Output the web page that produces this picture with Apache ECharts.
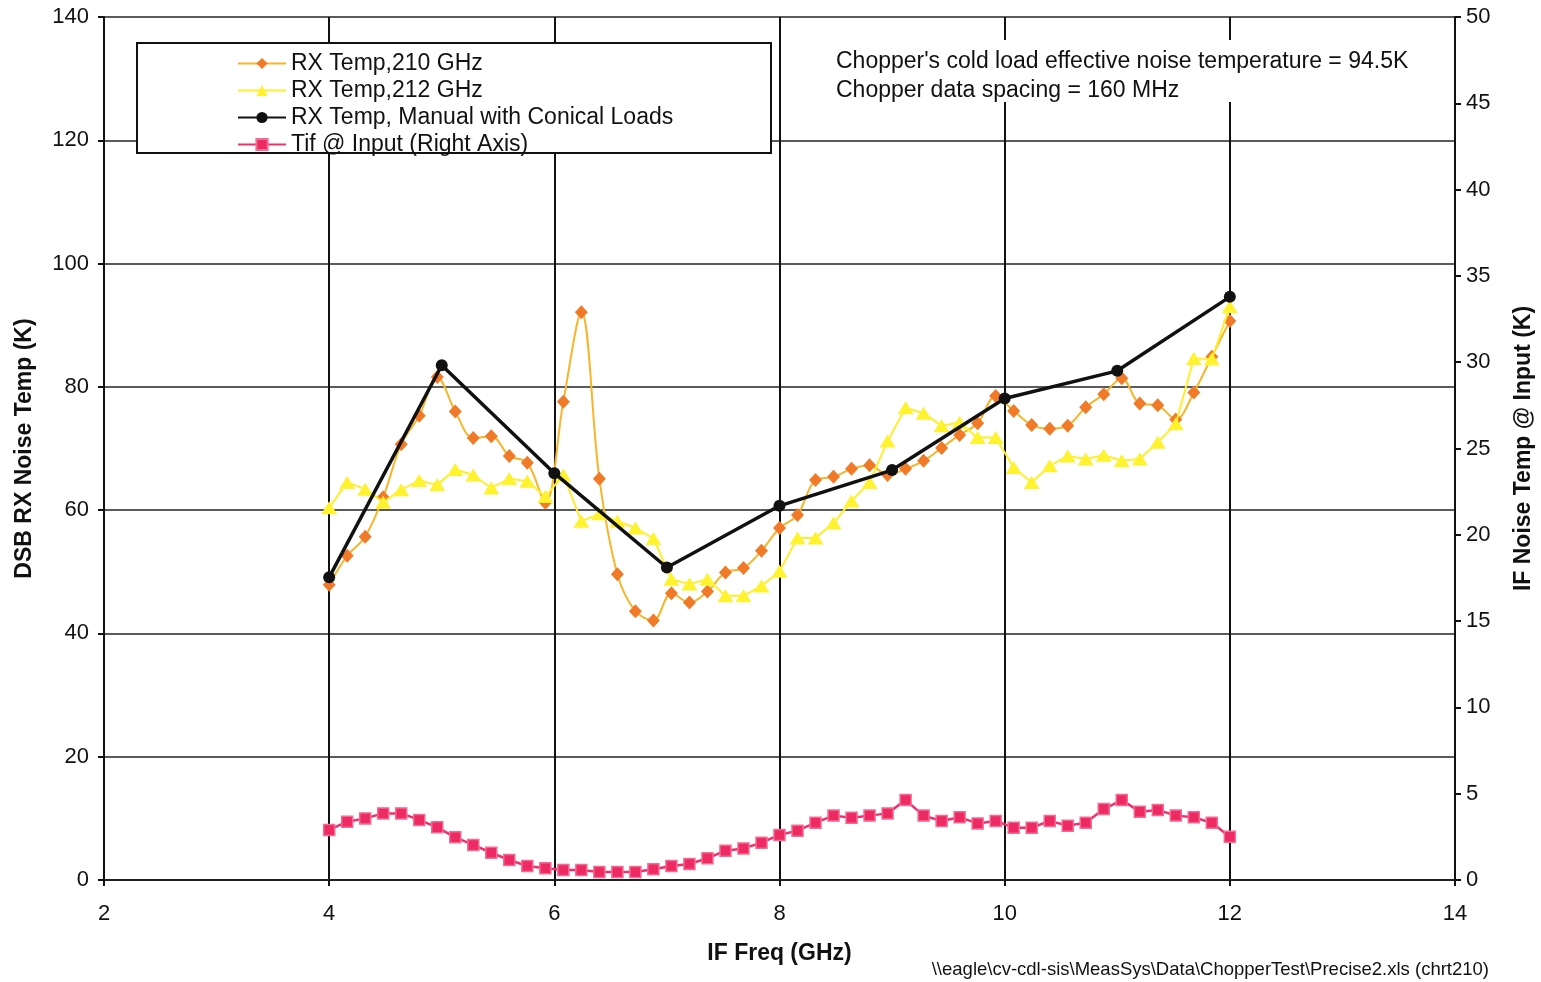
<!DOCTYPE html>
<html>
<head>
<meta charset="utf-8">
<script src="https://cdn.jsdelivr.net/npm/echarts@6/dist/echarts.min.js"></script>
<style>html,body{margin:0;padding:0;background:#fff}#c{width:1541px;height:982px}</style>
</head>
<body>
<div id="c"></div>
<script>
var freqs = [4.00,4.16,4.32,4.48,4.64,4.80,4.96,5.12,5.28,5.44,5.60,5.76,5.92,6.08,6.24,6.40,6.56,6.72,6.88,7.04,7.20,7.36,7.52,7.68,7.84,8.00,8.16,8.32,8.48,8.64,8.80,8.96,9.12,9.28,9.44,9.60,9.76,9.92,10.08,10.24,10.40,10.56,10.72,10.88,11.04,11.20,11.36,11.52,11.68,11.84,12.00];
var rx210 = [47.9,52.6,55.7,62.1,70.7,75.3,81.6,76.0,71.7,72.0,68.8,67.7,61.2,77.6,92.1,65.1,49.6,43.6,42.1,46.5,45.0,46.8,49.9,50.6,53.4,57.1,59.2,64.9,65.4,66.7,67.3,65.7,66.7,68.0,70.1,72.2,74.1,78.5,76.1,73.8,73.2,73.7,76.7,78.8,81.4,77.3,77.0,74.7,79.1,84.9,90.7];
var rx212 = [60.4,64.5,63.4,61.3,63.3,64.8,64.1,66.6,65.7,63.6,65.1,64.7,62.2,65.7,58.2,59.4,58.2,57.1,55.4,48.8,48.0,48.8,46.1,46.1,47.7,50.1,55.5,55.5,57.9,61.5,64.5,71.2,76.6,75.7,73.7,74.2,71.8,71.8,66.9,64.5,67.2,68.8,68.3,68.9,68.0,68.3,71.0,74.0,84.6,84.5,93.0];
var manualFreqs = [4,5,6,7,8,9,10,11,12];
var rxManual = [49.1,83.5,66.0,50.7,60.7,66.5,78.1,82.6,94.6];
var tif = [2.90,3.38,3.57,3.86,3.86,3.48,3.05,2.47,2.03,1.58,1.16,0.81,0.68,0.58,0.58,0.46,0.46,0.46,0.62,0.81,0.93,1.26,1.70,1.83,2.16,2.61,2.86,3.32,3.73,3.61,3.73,3.86,4.63,3.73,3.42,3.63,3.28,3.42,3.03,3.03,3.42,3.15,3.32,4.11,4.63,3.96,4.06,3.73,3.63,3.32,2.51];
var seriesNames = ['RX Temp,210 GHz','RX Temp,212 GHz','RX Temp, Manual with Conical Loads','Tif @ Input (Right Axis)'];
var xTicks = {min:2, max:14, step:2};
var leftTicks = {min:0, max:140, step:20};
var rightTicks = {min:0, max:50, step:5};
var noteLines = ["Chopper's cold load effective noise temperature = 94.5K", "Chopper data spacing = 160 MHz"];
var footer = '\\\\eagle\\cv-cdl-sis\\MeasSys\\Data\\ChopperTest\\Precise2.xls (chrt210)';

function pairs(xs, ys){ return xs.map(function(x,i){ return [x, ys[i]]; }); }

var FONT = '"Liberation Sans", Arial, sans-serif';
var chart = echarts.init(document.getElementById('c'), null, {renderer:'canvas'});
chart.setOption({
  backgroundColor:'#ffffff',
  animation:false,
  textStyle:{fontFamily:FONT},
  grid:{left:104, right:86, top:17, bottom:102, containLabel:false, outerBoundsMode:'none'},
  xAxis:{
    type:'value', min:xTicks.min, max:xTicks.max, interval:xTicks.step,
    name:'IF Freq (GHz)', nameLocation:'middle', nameGap:62,
    nameTextStyle:{fontFamily:FONT, fontSize:23, fontWeight:'bold', color:'#111'},
    axisLine:{show:true, onZero:false, lineStyle:{color:'#222', width:2}},
    axisTick:{show:true, inside:false, length:6, lineStyle:{color:'#111', width:2}},
    axisLabel:{fontFamily:FONT, fontSize:22, color:'#111', margin:23},
    splitLine:{show:true, lineStyle:{color:'#111', width:2}}
  },
  yAxis:[{
    type:'value', min:leftTicks.min, max:leftTicks.max, interval:leftTicks.step,
    name:'DSB RX Noise Temp (K)', nameLocation:'middle', nameGap:68, nameRotate:90,
    nameTextStyle:{fontFamily:FONT, fontSize:23, fontWeight:'bold', color:'#111'},
    axisLine:{show:true, lineStyle:{color:'#111', width:2}},
    axisTick:{show:true, inside:false, length:6, lineStyle:{color:'#111', width:2}},
    axisLabel:{fontFamily:FONT, fontSize:22, color:'#111', margin:15},
    splitLine:{show:true, lineStyle:{color:'#5a5a5a', width:2}}
  },{
    type:'value', position:'right', min:rightTicks.min, max:rightTicks.max, interval:rightTicks.step,
    name:'IF Noise Temp @ Input (K)', nameLocation:'middle', nameGap:57, nameRotate:90,
    nameTextStyle:{fontFamily:FONT, fontSize:23, fontWeight:'bold', color:'#111'},
    axisLine:{show:true, lineStyle:{color:'#111', width:2}},
    axisTick:{show:true, inside:false, length:6, lineStyle:{color:'#111', width:2}},
    axisLabel:{fontFamily:FONT, fontSize:22, color:'#111', margin:11},
    splitLine:{show:false}
  }],
  legend:{
    orient:'vertical', left:237, top:52, padding:0, itemWidth:48, itemHeight:14, itemGap:4,
    textStyle:{fontFamily:FONT, fontSize:23, color:'#111', lineHeight:22},
    data:seriesNames, z:10
  },
  graphic:[
    {type:'rect', z:5, shape:{x:137, y:43, width:634, height:110}, style:{fill:'#fff', stroke:'#111', lineWidth:2}},
    {type:'rect', z:5, shape:{x:828, y:40, width:592, height:62}, style:{fill:'#fff', stroke:null}},
    {type:'text', z:6, left:836, top:50, style:{text:noteLines[0], font:'23px '+FONT, fill:'#111'}},
    {type:'text', z:6, left:836, top:79, style:{text:noteLines[1], font:'23px '+FONT, fill:'#111'}},
    {type:'text', z:6, right:52, top:960, style:{text:footer, font:'18.5px '+FONT, fill:'#111'}}
  ],
  series:[
    {name:seriesNames[0], type:'line', yAxisIndex:0, data:pairs(freqs, rx210), smooth:0.35,
     symbol:'diamond', symbolSize:[13,14], z:2,
     lineStyle:{color:'#F7B52A', width:2}, itemStyle:{color:'#F07A28'}},
    {name:seriesNames[1], type:'line', yAxisIndex:0, data:pairs(freqs, rx212),
     symbol:'triangle', symbolSize:[16,13], z:3,
     lineStyle:{color:'#FFEF2A', width:2}, itemStyle:{color:'#FFF22E'}},
    {name:seriesNames[2], type:'line', yAxisIndex:0, data:pairs(manualFreqs, rxManual),
     symbol:'circle', symbolSize:12, z:4,
     lineStyle:{color:'#111', width:3.5}, itemStyle:{color:'#111'}},
    {name:seriesNames[3], type:'line', yAxisIndex:1, data:pairs(freqs, tif),
     symbol:'rect', symbolSize:11, z:4,
     lineStyle:{color:'#F0306A', width:2.5}, itemStyle:{color:'#EE2A62', borderColor:'#F56A93', borderWidth:1.5}}
  ]
});
</script>
</body>
</html>
